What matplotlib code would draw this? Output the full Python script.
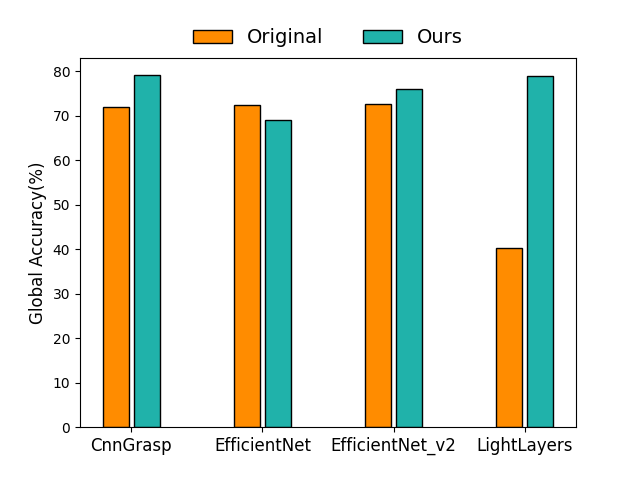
import matplotlib
matplotlib.use("Agg")
import matplotlib.pyplot as plt
import numpy as np

categories = ["CnnGrasp", "EfficientNet", "EfficientNet_v2", "LightLayers"]
original = [71.9, 72.3, 72.6, 40.2]
ours = [79.1, 69.0, 75.9, 78.9]

fig, ax = plt.subplots(figsize=(6.4, 4.8), dpi=100)
x = np.arange(len(categories))
w = 0.2
ax.bar(x - 0.12, original, w, color="darkorange", edgecolor="black", label="Original")
ax.bar(x + 0.12, ours, w, color="lightseagreen", edgecolor="black", label="Ours")
ax.set_xticks(x)
ax.set_xticklabels(categories, fontsize=12)
ax.set_ylabel("Global Accuracy(%)", fontsize=12)
ax.legend(loc="lower center", bbox_to_anchor=(0.5, 0.981), ncol=2, frameon=False, fontsize=14)
fig.savefig("out.png")
